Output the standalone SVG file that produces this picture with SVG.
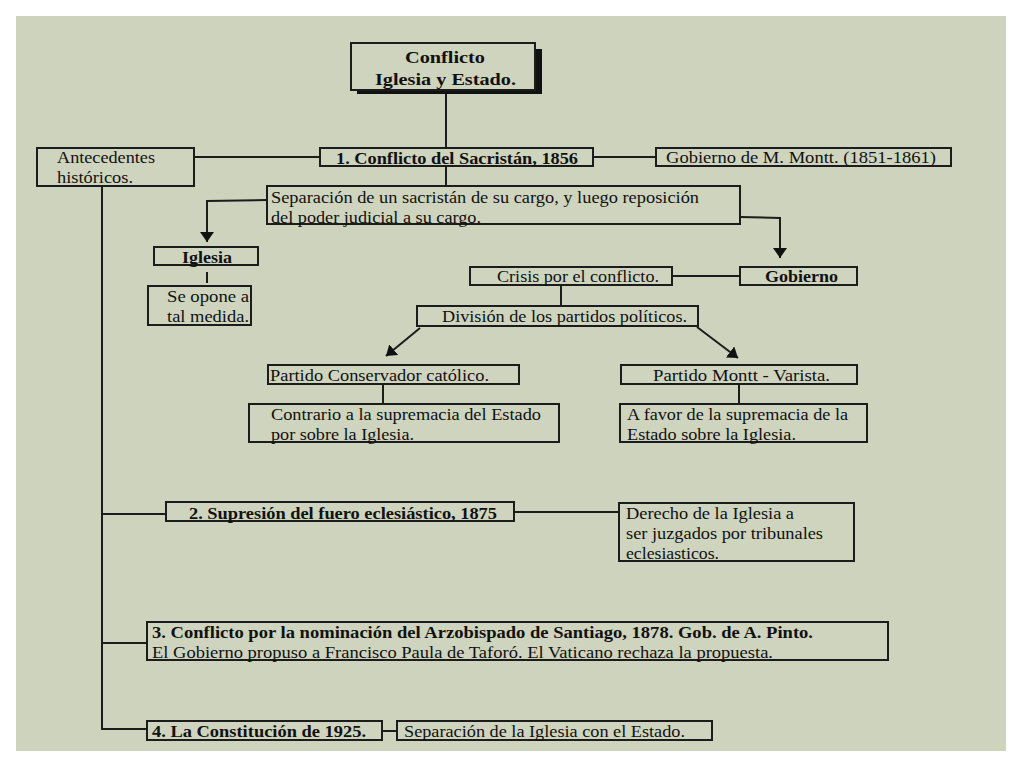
<svg xmlns="http://www.w3.org/2000/svg" width="1024" height="768" viewBox="0 0 1024 768">
<defs>
<style>
.bx{fill:#cfd4be;stroke:#1c1c1c;stroke-width:2}
.ln{fill:none;stroke:#1c1c1c;stroke-width:2}
text{font-family:"Liberation Serif","Times New Roman",serif;font-size:16px;fill:#111}
.b{font-weight:bold}
</style>
<marker id="ah" viewBox="0 0 10 14" refX="10" refY="7" markerWidth="5" markerHeight="7" orient="auto">
<path d="M0,0 L10,7 L0,14 z" fill="#111"/>
</marker>
</defs>
<rect x="0" y="0" width="1024" height="768" fill="#ffffff"/>
<rect x="16" y="16" width="990" height="735" fill="#ced3bd"/>

<g id="connectors">
<line class="ln" x1="446" y1="92" x2="446" y2="148"/>
<line class="ln" x1="194" y1="157" x2="320" y2="157"/>
<line class="ln" x1="593" y1="157" x2="656" y2="157"/>
<line class="ln" x1="446" y1="166" x2="446" y2="186"/>
<polyline class="ln" points="267,200 207,201 207,242" marker-end="url(#ah)"/>
<polyline class="ln" points="740,217 780,218 780,258" marker-end="url(#ah)"/>
<line class="ln" x1="207" y1="272" x2="207" y2="283"/>
<line class="ln" x1="672" y1="276" x2="740" y2="276"/>
<line class="ln" x1="561" y1="285" x2="561" y2="306"/>
<line class="ln" x1="420" y1="328" x2="386" y2="356" marker-end="url(#ah)"/>
<line class="ln" x1="697" y1="327" x2="738" y2="358" marker-end="url(#ah)"/>
<line class="ln" x1="383" y1="384" x2="383" y2="404"/>
<line class="ln" x1="739" y1="384" x2="739" y2="404"/>
<polyline class="ln" points="102,186 102,729 147,729"/>
<line class="ln" x1="102" y1="514" x2="166" y2="514"/>
<line class="ln" x1="514" y1="512" x2="619" y2="512"/>
<line class="ln" x1="102" y1="643" x2="147" y2="643"/>
<line class="ln" x1="382" y1="731" x2="397" y2="731"/>
</g>

<g id="title">
<rect x="357" y="49" width="185" height="45" fill="#111"/>
<rect class="bx" x="351" y="43" width="184" height="47"/>
<text class="b" x="405" y="63" font-size="17" textLength="80" lengthAdjust="spacingAndGlyphs">Conflicto</text>
<text class="b" x="375" y="85" font-size="17" textLength="141" lengthAdjust="spacingAndGlyphs">Iglesia y Estado.</text>
</g>

<g id="antecedentes">
<rect class="bx" x="37" y="148" width="157" height="38"/>
<text x="57" y="163" textLength="98" lengthAdjust="spacingAndGlyphs">Antecedentes</text>
<text x="57" y="183" textLength="76" lengthAdjust="spacingAndGlyphs">históricos.</text>
</g>

<g id="sacristan">
<rect class="bx" x="320" y="148" width="273" height="18"/>
<text class="b" x="336" y="164" textLength="242" lengthAdjust="spacingAndGlyphs">1. Conflicto del Sacristán, 1856</text>
</g>

<g id="montt">
<rect class="bx" x="656" y="148" width="295" height="18"/>
<text x="666" y="163" textLength="270" lengthAdjust="spacingAndGlyphs">Gobierno de M. Montt. (1851-1861)</text>
</g>

<g id="separacion">
<rect class="bx" x="267" y="186" width="473" height="38"/>
<text x="271" y="203" textLength="428" lengthAdjust="spacingAndGlyphs">Separación de un sacristán de su cargo, y luego reposición</text>
<text x="271" y="223" textLength="210" lengthAdjust="spacingAndGlyphs">del poder judicial a su cargo.</text>
</g>

<g id="iglesia">
<rect class="bx" x="154" y="247" width="104" height="18"/>
<text class="b" x="182" y="263" textLength="50" lengthAdjust="spacingAndGlyphs">Iglesia</text>
</g>

<g id="seopone">
<rect class="bx" x="148" y="286" width="103" height="39"/>
<text x="167" y="302" textLength="82" lengthAdjust="spacingAndGlyphs">Se opone a</text>
<text x="167" y="322" textLength="82" lengthAdjust="spacingAndGlyphs">tal medida.</text>
</g>

<g id="crisis">
<rect class="bx" x="470" y="267" width="202" height="18"/>
<text x="497" y="282" textLength="162" lengthAdjust="spacingAndGlyphs">Crisis por el conflicto.</text>
</g>

<g id="gobierno">
<rect class="bx" x="740" y="267" width="117" height="18"/>
<text class="b" x="765" y="282" textLength="73" lengthAdjust="spacingAndGlyphs">Gobierno</text>
</g>

<g id="division">
<rect class="bx" x="417" y="306" width="281" height="20"/>
<text x="442" y="322" textLength="245" lengthAdjust="spacingAndGlyphs">División de los partidos políticos.</text>
</g>

<g id="conservador">
<rect class="bx" x="268" y="365" width="251" height="19"/>
<text x="270" y="381" textLength="219" lengthAdjust="spacingAndGlyphs">Partido Conservador católico.</text>
</g>

<g id="contrario">
<rect class="bx" x="249" y="404" width="310" height="38"/>
<text x="271" y="420" textLength="270" lengthAdjust="spacingAndGlyphs">Contrario a la supremacia del Estado</text>
<text x="271" y="440" textLength="143" lengthAdjust="spacingAndGlyphs">por sobre la Iglesia.</text>
</g>

<g id="monttvarista">
<rect class="bx" x="621" y="365" width="236" height="19"/>
<text x="653" y="381" textLength="177" lengthAdjust="spacingAndGlyphs">Partido Montt - Varista.</text>
</g>

<g id="afavor">
<rect class="bx" x="620" y="404" width="247" height="38"/>
<text x="627" y="420" textLength="221" lengthAdjust="spacingAndGlyphs">A favor de la supremacia de la</text>
<text x="627" y="440" textLength="169" lengthAdjust="spacingAndGlyphs">Estado sobre la Iglesia.</text>
</g>

<g id="fuero">
<rect class="bx" x="166" y="502" width="348" height="19"/>
<text class="b" x="189" y="519" textLength="308" lengthAdjust="spacingAndGlyphs">2. Supresión del fuero eclesiástico, 1875</text>
</g>

<g id="derecho">
<rect class="bx" x="619" y="503" width="235" height="58"/>
<text x="626" y="519" textLength="168" lengthAdjust="spacingAndGlyphs">Derecho de la Iglesia a</text>
<text x="626" y="539" textLength="197" lengthAdjust="spacingAndGlyphs">ser juzgados por tribunales</text>
<text x="626" y="559" textLength="93" lengthAdjust="spacingAndGlyphs">eclesiasticos.</text>
</g>

<g id="arzobispado">
<rect class="bx" x="147" y="622" width="741" height="38"/>
<text class="b" x="152" y="638" font-size="17" textLength="661" lengthAdjust="spacingAndGlyphs">3. Conflicto por la nominación del Arzobispado de Santiago, 1878. Gob. de A. Pinto.</text>
<text x="152" y="658" textLength="621" lengthAdjust="spacingAndGlyphs">El Gobierno propuso a Francisco Paula de Taforó. El Vaticano rechaza la propuesta.</text>
</g>

<g id="constitucion">
<rect class="bx" x="147" y="721" width="235" height="19"/>
<text class="b" x="152" y="737" font-size="17" textLength="214" lengthAdjust="spacingAndGlyphs">4. La Constitución de 1925.</text>
</g>

<g id="separacion1925">
<rect class="bx" x="397" y="721" width="315" height="19"/>
<text x="404" y="737" textLength="281" lengthAdjust="spacingAndGlyphs">Separación de la Iglesia con el Estado.</text>
</g>
</svg>
